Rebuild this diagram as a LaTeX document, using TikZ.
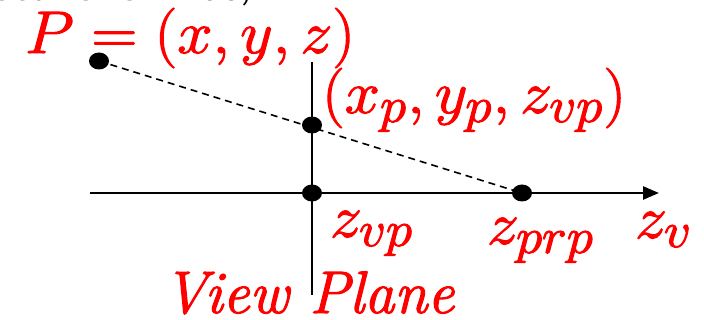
\documentclass[tikz,border=0pt]{standalone}
\usepackage{graphicx}
\usepackage{fontspec}
\newfontfamily\slidefont{Carlito}
\newcommand{\heavy}[2]{\special{pdf:literal direct 2 Tr #1 w}#2\special{pdf:literal direct 0 Tr}}
\newcommand{\mymath}[1]{\scalebox{2.55}[2.41]{\fontsize{24.88}{30}\selectfont\heavy{0.45}{$#1$}}}
\usetikzlibrary{arrows.meta,shapes.geometric}
\begin{document}
\begin{tikzpicture}[x=1pt,y=-1pt,
  dot/.style={shape=ellipse,fill=black,minimum width=20pt,minimum height=17pt,inner sep=0pt},
  lbl/.style={text=red,inner sep=0pt,anchor=base west,font=\fontsize{60}{70}\selectfont},
  axisline/.style={line width=2.6pt,-{Triangle[length=16pt,width=13pt]}},
  planeline/.style={line width=1.8pt},
  rayline/.style={line width=1.6pt,dash pattern=on 7pt off 5pt}]
\useasboundingbox (0,0) rectangle (704,320);
\begin{scope}
\clip (0,0) rectangle (704,320);
\node[inner sep=0pt,anchor=base east,font=\slidefont\fontsize{44}{50}\selectfont] (title) at (252,1) {ective form as,};
\end{scope}
% geometry
\coordinate (vtop) at (312,62);
\coordinate (vbot) at (312,295);
\coordinate (axstart) at (90,193);
\coordinate (axend) at (659,193);
\draw[planeline] (vtop) -- (vbot);
\draw[axisline] (axstart) -- (axend);
\node[dot] (P) at (99,61) {};
\node[dot] (Q) at (312,125) {};
\node[dot] (Z) at (312,193) {};
\node[dot] (R) at (522,193) {};
\draw[rayline] (P.center) -- (R.center);
% labels
\node[lbl] (Plbl) at (25,53) {\mymath{P=(x,y,z)}};
\node[lbl] (Qlbl) at (322,113) {\mymath{(x_p,y_p,z_{vp})}};
\node[lbl] (Zlbl) at (330,237) {\mymath{z_{vp}}};
\node[lbl] (Rlbl) at (487,244) {\mymath{z_{prp}}};
\node[lbl] (Vlbl) at (635,238) {\mymath{z_v}};
\node[lbl] (VP) at (163,313) {\itshape\heavy{1.1}{View Plane}};
\end{tikzpicture}
\end{document}
